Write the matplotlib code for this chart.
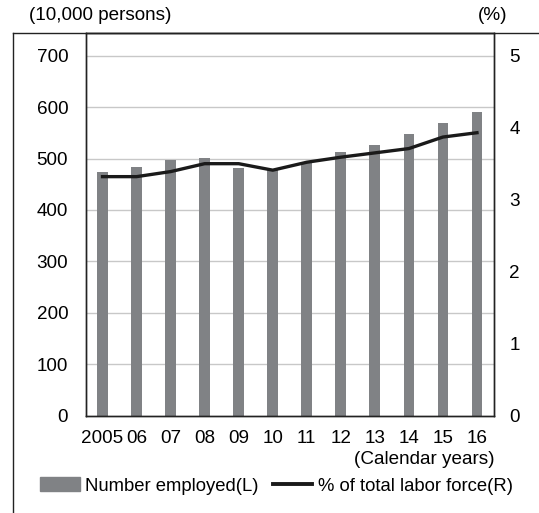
import matplotlib.pyplot as plt
from matplotlib.lines import Line2D
from matplotlib.patches import Patch

plt.rcParams['font.family'] = ['Liberation Sans', 'DejaVu Sans']

# data
years = ['2005', '06', '07', '08', '09', '10', '11', '12', '13', '14', '15', '16']
employed = [473, 484, 497, 502, 482, 477, 492, 513, 527, 548, 570, 590]
share = [3.32, 3.32, 3.39, 3.50, 3.50, 3.41, 3.52, 3.59, 3.65, 3.71, 3.87, 3.93]
left_ticks = [0, 100, 200, 300, 400, 500, 600, 700]
right_ticks = [0, 1, 2, 3, 4, 5]

fs = 13.6
bar_col = '#808285'

fig = plt.figure(figsize=(5.39, 5.13), dpi=100)
ax = fig.add_axes([85.5 / 539, 1 - 415.7 / 513, (494 - 85.5) / 539, (415.7 - 33.3) / 513])
ax2 = ax.twinx()

x = list(range(len(years)))
ax.bar(x, employed, width=0.315, color=bar_col, zorder=2)
ax2.plot(x, share, color='#1a1a1a', lw=2.4, solid_joinstyle='round', zorder=3)

ax.set_xlim(-0.5, len(years) - 0.5)
ax.set_ylim(0, 743.5)
ax2.set_ylim(0, 743.5 / 140)
ax.set_yticks(left_ticks)
ax2.set_yticks(right_ticks)
ax.set_xticks(x)
ax.set_xticklabels(years)

for g in left_ticks[1:]:
    ax.axhline(g, color='#c8c8c8', lw=1.0, zorder=1)

ax.tick_params(axis='y', length=0, pad=12.5, labelsize=fs)
ax.tick_params(axis='x', length=0, pad=10.5, labelsize=fs)
ax2.tick_params(axis='y', length=0, pad=11, labelsize=fs)

for a in (ax, ax2):
    for s in a.spines.values():
        s.set_color('#222222')
        s.set_linewidth(1.0)

ax.set_zorder(ax2.get_zorder() - 1)
ax2.patch.set_visible(False)

# axis units and captions
fig.text(29 / 539, 1 - 16 / 513, '(10,000 persons)', fontsize=fs, ha='left', va='center')
fig.text(507 / 539, 1 - 16 / 513, '(%)', fontsize=fs, ha='right', va='center')
fig.text(495 / 539, 1 - 460 / 513, '(Calendar years)', fontsize=fs, ha='right', va='center')

# outer frame (top and left lines)
fig.add_artist(Line2D([12.7 / 539, 1], [1 - 33.3 / 513, 1 - 33.3 / 513], color='#222222', lw=1.0))
fig.add_artist(Line2D([12.7 / 539, 12.7 / 539], [1 - 33.3 / 513, 0], color='#222222', lw=1.0))

handles = [Patch(color=bar_col, label='Number employed(L)'),
           Line2D([], [], color='#1a1a1a', lw=2.8, label='% of total labor force(R)')]
fig.legend(handles=handles, loc='center left', bbox_to_anchor=(40 / 539, 1 - 486 / 513),
           ncol=2, frameon=False, fontsize=13.3, borderpad=0, borderaxespad=0,
           handlelength=2.15, handleheight=0.8, handletextpad=0.3, columnspacing=0.75)

fig.savefig('out.png', dpi=100)
